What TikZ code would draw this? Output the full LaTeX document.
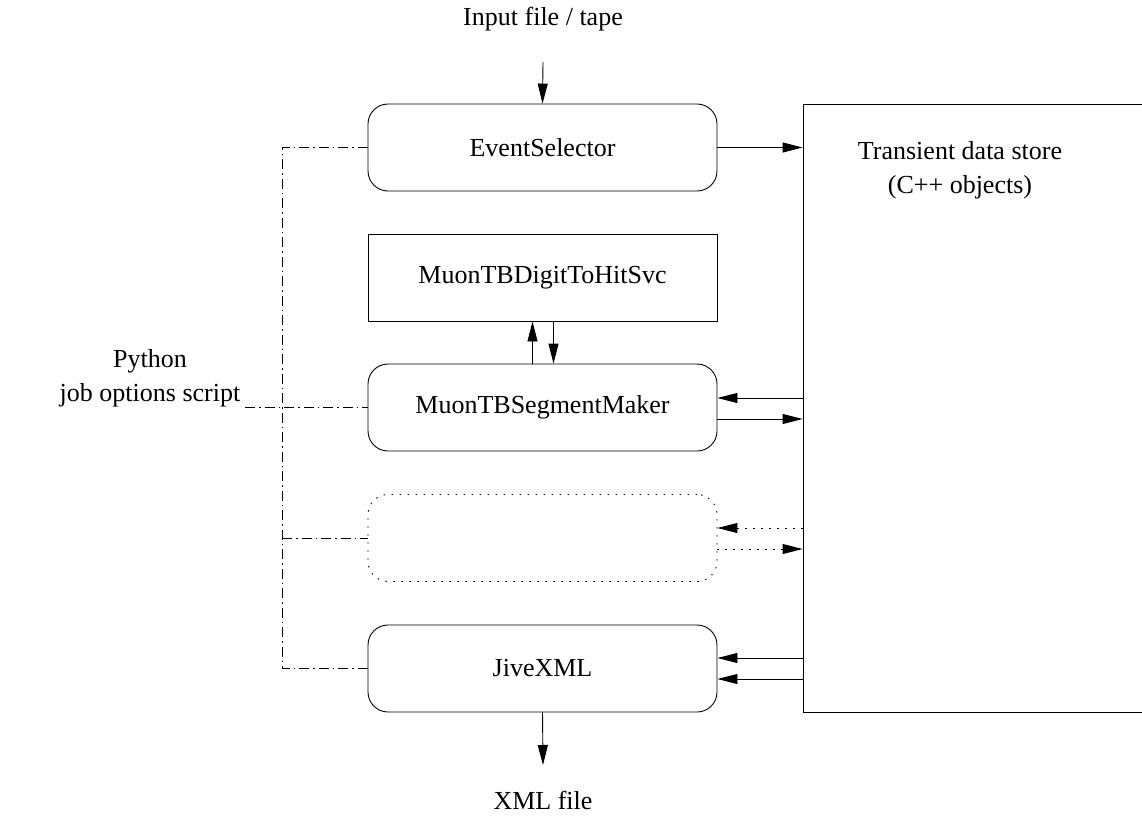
\documentclass[tikz,border=0pt]{standalone}
\usepackage{fontspec}
\setmainfont{Liberation Serif}
\usetikzlibrary{arrows.meta}
\begin{document}
\begin{tikzpicture}[x=1pt,y=-1pt,
  every node/.style={font=\fontsize{26}{32}\selectfont, inner sep=0pt},
  box/.style={draw, line width=0.9pt, minimum width=349pt, minimum height=87pt},
  rbox/.style={box, rounded corners=20pt},
  arr/.style={line width=0.9pt, -{Triangle[length=20pt,width=10pt]}},
  dotarr/.style={arr, dash pattern=on 1.5pt off 6.5pt},
  dashdot/.style={line width=0.8pt, dash pattern=on 10pt off 4pt on 1.5pt off 4pt}]
\useasboundingbox (0,0) rectangle (1142,819);
% nodes
\node[rbox] (es) at (542.5,147.5) {EventSelector};
\node[box] (dth) at (542.5,277.5) {MuonTBDigitToHitSvc};
\node[rbox] (seg) at (542.5,407.5) {MuonTBSegmentMaker};
\node[rbox, dash pattern=on 1.5pt off 6.5pt] (alg) at (542.5,538) {};
\node[rbox] (jive) at (542.5,668.5) {JiveXML};
\node[draw, line width=0.9pt, minimum width=342pt, minimum height=608pt] (store) at (974,408) {};
\node[align=center] (storetxt) at (960,170) {Transient data store\\[2pt](C++ objects)};
\node (in) at (543,19) {Input file / tape};
\node (out) at (543,800) {XML file};
\node[align=center] (py) at (150,378) {Python\\[2pt]job options script};
% coordinates
\coordinate (inend) at (543,62);
\coordinate (pyend) at (245,407.5);
\coordinate (vtop) at (282,147.5);
\coordinate (vbot) at (282,668.5);
\coordinate (valg) at (282,538);
\coordinate (outend) at (543,765);
% input / output
\draw[arr] (inend) -- (es.north);
\draw[arr] (jive.south) -- (outend);
% event selector -> store
\draw[arr] (es.east) -- (es.east -| store.west);
% digit svc <-> segment maker
\draw[arr] ([xshift=-10pt]seg.north) -- ([xshift=-10pt]dth.south);
\draw[arr] ([xshift=11pt]dth.south) -- ([xshift=11pt]seg.north);
% segment maker <-> store
\draw[arr] ([yshift=9.5pt]seg.east -| store.west) -- ([yshift=9.5pt]seg.east);
\draw[arr] ([yshift=-11.5pt]seg.east) -- ([yshift=-11.5pt]seg.east -| store.west);
% dotted algorithm <-> store
\draw[dotarr] ([yshift=10pt]alg.east -| store.west) -- ([yshift=10pt]alg.east);
\draw[dotarr] ([yshift=-11pt]alg.east) -- ([yshift=-11pt]alg.east -| store.west);
% store -> jive
\draw[arr] ([yshift=10.5pt]jive.east -| store.west) -- ([yshift=10.5pt]jive.east);
\draw[arr] ([yshift=-10.5pt]jive.east -| store.west) -- ([yshift=-10.5pt]jive.east);
% job options dash-dot lines
\draw[dashdot] (es.west) -- (vtop) -- (vbot) -- (jive.west);
\draw[dashdot] (valg) -- (alg.west);
\draw[dashdot] (pyend) -- (seg.west);
\end{tikzpicture}
\end{document}
